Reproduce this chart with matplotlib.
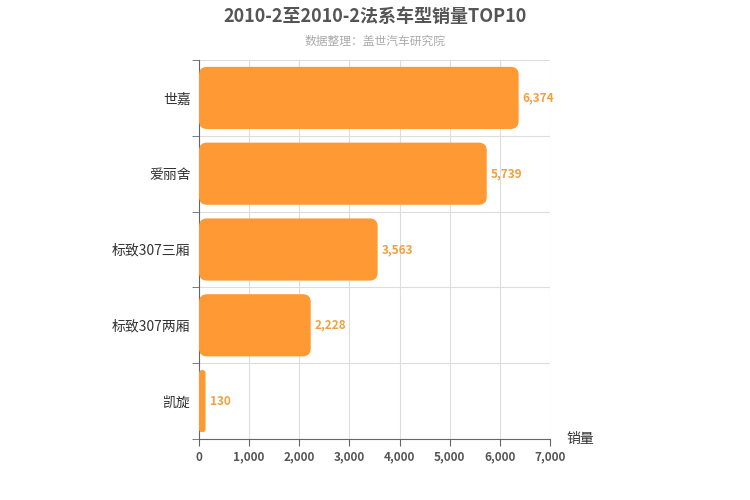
import matplotlib
matplotlib.use("Agg")
import matplotlib.pyplot as plt
from matplotlib.patches import FancyBboxPatch

plt.rcParams["font.family"] = ["Noto Sans CJK SC"]
categories = ["世嘉", "爱丽舍", "标致307三厢", "标致307两厢", "凯旋"]
values = [6374, 5739, 3563, 2228, 130]
xticks = [0, 1000, 2000, 3000, 4000, 5000, 6000, 7000]

fig = plt.figure(figsize=(7.5, 5), dpi=100)
ax = fig.add_axes([199/750, 1-439/500, 351/750, 379/500])
n = len(categories)
ax.set_xlim(0, 7000)
ax.set_ylim(n, 0)
xpp = 7000/351; ypp = n/379
color = "#FF9933"
for i, v in enumerate(values):
    h = 0.82
    y0 = i + (1-h)/2
    r = min(8*xpp, v/2)
    p = FancyBboxPatch((0, y0), v, h, boxstyle=f"round,pad=0,rounding_size={r}",
                       mutation_aspect=ypp/xpp, fc=color, ec="none", zorder=3)
    ax.add_patch(p)
    ax.text(v + 4*xpp, i+0.5, f"{v:,}", va="center", ha="left", color="#F0A040",
            fontsize=8.5, fontweight="bold", zorder=4)
ax.set_xticks(xticks)
ax.set_xticklabels([f"{t:,}" for t in xticks], fontsize=8.5, color="#555", fontweight="bold")
ax.set_yticks([i+0.5 for i in range(n)])
ax.set_yticklabels(categories, fontsize=10, color="#333")
ax.set_yticks(range(n+1), minor=True)
ax.tick_params(axis="y", which="major", length=0, pad=6)
ax.tick_params(axis="y", which="minor", length=5, color="#666")
ax.tick_params(axis="x", length=5, color="#666")
ax.grid(True, axis="x", color="#DDDDDD", lw=0.8, zorder=0)
ax.grid(True, axis="y", which="minor", color="#DDDDDD", lw=0.8, zorder=0)
for s in ["top", "right"]:
    ax.spines[s].set_visible(False)
for s in ["left", "bottom"]:
    ax.spines[s].set_color("#666")
fig.text(0.5, 1-16/500, "2010-2至2010-2法系车型销量TOP10", ha="center", va="center",
         fontsize=13, fontweight="bold", color="#555")
fig.text(0.5, 1-41/500, "数据整理：盖世汽车研究院", ha="center", va="center", fontsize=8.5, color="#AAAAAA")
fig.text(580/750, 1-439/500, "销量", ha="center", va="center", fontsize=10, color="#333")
fig.savefig("out.png", dpi=100, facecolor="white")
